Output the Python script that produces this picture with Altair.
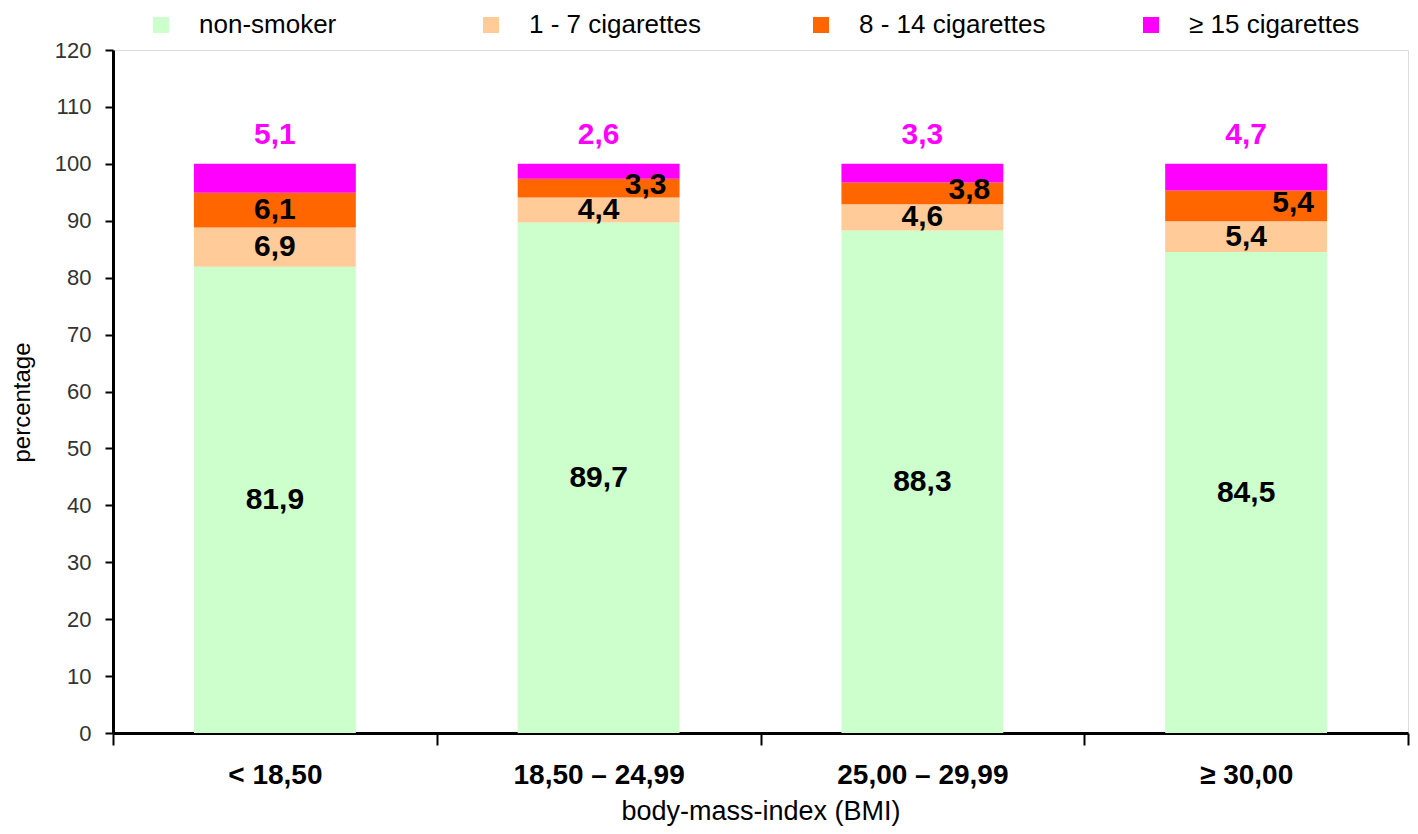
import altair as alt
import pandas as pd

bmi = ["< 18,50", "18,50 – 24,99", "25,00 – 29,99", "≥ 30,00"]
groups = ["non-smoker", "1 - 7 cigarettes", "8 - 14 cigarettes", "≥ 15 cigarettes"]
non_smoker = [81.9, 89.7, 88.3, 84.5]
cig_1_7 = [6.9, 4.4, 4.6, 5.4]
cig_8_14 = [6.1, 3.3, 3.8, 5.4]
cig_15 = [5.1, 2.6, 3.3, 4.7]
colors = ["#CCFFCC", "#FFCC99", "#FF6600", "#FF00FF"]
y_ticks = list(range(0, 121, 10))

rows = []
for gi, (g, vals) in enumerate(zip(groups, [non_smoker, cig_1_7, cig_8_14, cig_15])):
    for bi, (b, v) in enumerate(zip(bmi, vals)):
        rows.append({"bmi": b, "bi": bi, "group": g, "order": gi, "value": v,
                     "label": f"{v:.1f}".replace(".", ",")})
df = pd.DataFrame(rows)

FONT = "Liberation Sans"

x_enc = alt.X(
    "bmi:N", sort=bmi,
    scale=alt.Scale(paddingInner=0, paddingOuter=0),
    axis=alt.Axis(title="body-mass-index (BMI)", labelAngle=0, labelFontWeight="bold",
                  labelFontSize=28, labelColor="black", tickBand="extent", tickSize=12,
                  tickWidth=2, tickColor="black", domainColor="black", domainWidth=3,
                  labelPadding=16, titleFontSize=27, titleFontWeight="normal",
                  titlePadding=9, titleColor="black", labelFont=FONT, titleFont=FONT),
)

base = alt.Chart(df).transform_stack(
    stack="value", groupby=["bmi"], as_=["lo", "hi"],
    sort=[alt.SortField("order", "ascending")],
).transform_calculate(mid="(datum.lo + datum.hi) / 2")

bars = base.mark_bar(width=alt.RelativeBandSize(0.5)).encode(
    x=x_enc,
    y=alt.Y("lo:Q", scale=alt.Scale(domain=[0, 120]),
            axis=alt.Axis(values=y_ticks, title="percentage", grid=False, tickSize=8,
                          tickWidth=2, tickColor="black", domainWidth=3, domainColor="black",
                          labelFontSize=22, labelColor="#333333", labelPadding=14,
                          titleFontSize=24, titleFontWeight="normal", titleColor="black",
                          titlePadding=20, titleY=352, labelFont=FONT, titleFont=FONT)),
    y2="hi:Q",
    color=alt.Color("group:N", sort=groups, scale=alt.Scale(domain=groups, range=colors),
                    legend=alt.Legend(title=None, orient="none", legendX=35, legendY=-38,
                                      direction="horizontal", gridAlign="all", columns=4,
                                      columnPadding=92, symbolType="square",
                                      symbolSize=256, symbolStrokeWidth=0,
                                      labelFontSize=26, labelOffset=25, labelColor="black",
                                      labelLimit=400, labelFont=FONT)),
    order=alt.Order("order:Q"),
)

inner = base.transform_filter(
    "datum.order <= 1 || (datum.order == 2 && datum.bi == 0)"
).mark_text(fontSize=30, fontWeight="bold", color="black", baseline="middle", font=FONT).encode(
    x=x_enc, y=alt.Y("mid:Q"), text="label:N"
)

shifted = base.transform_filter(
    "datum.order == 2 && datum.bi > 0"
).mark_text(fontSize=30, fontWeight="bold", color="black", baseline="middle", dx=47, dy=-3,
            font=FONT).encode(
    x=x_enc, y=alt.Y("mid:Q"), text="label:N"
)

top = base.transform_filter("datum.order == 3").mark_text(
    fontSize=30, fontWeight="bold", color="#FF00FF", baseline="middle", dy=-29, font=FONT
).encode(x=x_enc, y=alt.Y("hi:Q"), text="label:N")

chart = alt.layer(bars, inner, shifted, top).properties(
    width=1295, height=683, autosize="none",
    padding={"left": 105, "top": 42, "right": 2, "bottom": 100},
).configure_view(stroke="black", strokeWidth=3).configure(font=FONT)

chart.save("out.html", embed_options={"renderer": "svg", "actions": False})
